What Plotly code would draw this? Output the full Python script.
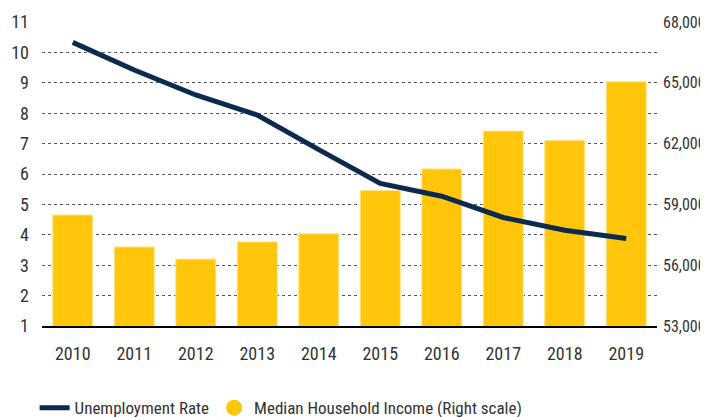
import plotly.graph_objects as go

years = ["2010", "2011", "2012", "2013", "2014", "2015", "2016", "2017", "2018", "2019"]
unemployment = [10.33, 9.42, 8.6, 7.94, 6.8, 5.69, 5.27, 4.57, 4.15, 3.88]
income = [58480, 56900, 56300, 57150, 57550, 59690, 60750, 62620, 62160, 65050]

left_ticks = list(range(1, 12))
right_ticks = [53000, 56000, 59000, 62000, 65000, 68000]

FONT = ("Noto Sans Condensed, Roboto Condensed, "
        "DejaVu Sans Condensed, Liberation Sans Narrow, Roboto, sans-serif")
TXT = "#333333"
GOLD = "#FFC60B"
NAVY = "#0C2A4F"

fig = go.Figure()
fig.add_trace(go.Bar(
    x=years, y=income, yaxis="y", name="Median Household Income (Right scale)",
    marker=dict(color=GOLD, line=dict(color="#FFE58A", width=1)),
    showlegend=False,
))
fig.add_trace(go.Scatter(
    x=years, y=unemployment, yaxis="y2", mode="lines", name="Unemployment Rate",
    line=dict(color=NAVY, width=5),
))
# legend proxy for the bar series (circle marker as in the reference)
fig.add_trace(go.Scatter(
    x=[None], y=[None], yaxis="y", mode="markers",
    name="Median Household Income (Right scale)",
    marker=dict(color=GOLD, size=18, symbol="circle"),
))

# page body has an 8px default margin, so the figure is sized 700x409
fig.update_layout(
    width=700, height=409,
    margin=dict(l=34, r=51, t=14, b=91, autoexpand=False),
    paper_bgcolor="white", plot_bgcolor="white",
    font=dict(family=FONT, size=18, color=TXT),
    bargap=0.35,
    showlegend=True,
    legend=dict(orientation="h", x=-0.012, xanchor="left", y=-0.27, yanchor="middle",
                font=dict(size=17, color=TXT), itemsizing="trace",
                bgcolor="rgba(0,0,0,0)"),
    xaxis=dict(
        type="category", showgrid=False, showline=True, linecolor="black", linewidth=2,
        ticks="", tickfont=dict(size=18, color=TXT), ticklabelstandoff=10,
        zeroline=False, automargin=False,
    ),
    yaxis=dict(
        side="right", range=[53000, 68000], tickvals=right_ticks,
        tickformat=",", showgrid=False, zeroline=False, showline=False,
        tickfont=dict(size=16, color=TXT), ticklabelstandoff=5, automargin=False,
    ),
    yaxis2=dict(
        side="left", overlaying="y", range=[1, 11], tickvals=left_ticks,
        showgrid=True, gridcolor="#555555", griddash="dot", gridwidth=1,
        zeroline=False, showline=False,
        tickfont=dict(size=18, color=TXT), ticklabelstandoff=12, automargin=False,
    ),
)

fig.write_html("out.html")
